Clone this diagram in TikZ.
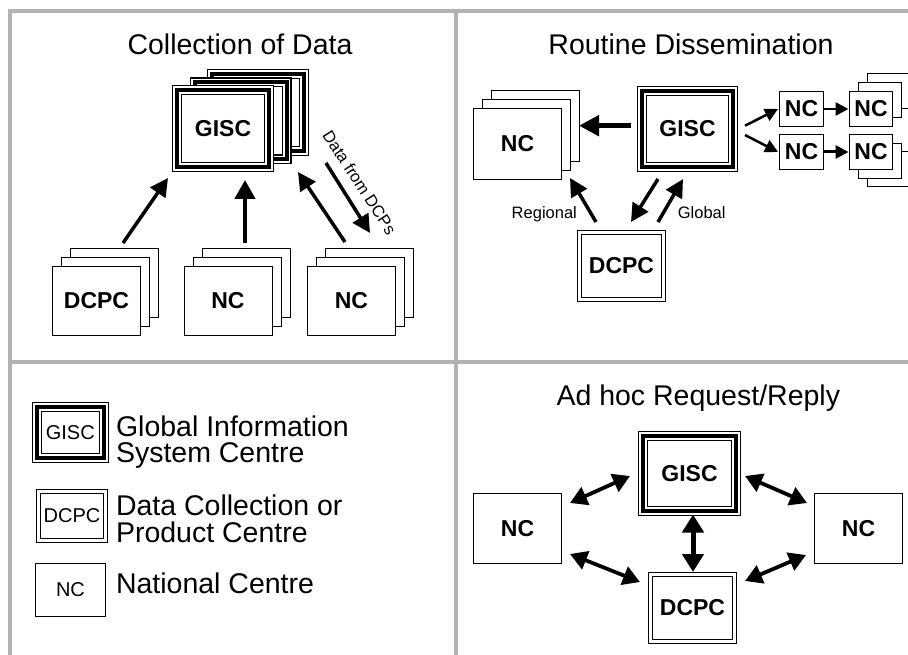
\documentclass[tikz,border=0pt]{standalone}
\usepackage{fontspec}
\setmainfont{Liberation Sans}
\usetikzlibrary{arrows.meta,calc}
\begin{document}
\begin{tikzpicture}[x=1pt,y=-1pt,
  every node/.style={inner sep=0pt, outer sep=0pt},
  sz/.style 2 args={minimum width=#1pt, minimum height=#2pt},
  ncbox/.style={draw=black, fill=white, line width=1pt},
  dcpcbox/.style={draw=black, fill=white, line width=1pt, double=white, double distance=3pt},
  giscbox/.style={draw=black, fill=white, line width=10pt,
     postaction={draw=white, line width=7.6pt},
     postaction={draw=black, line width=4pt}},
  lab/.style={font=\bfseries\fontsize{23}{23}\selectfont},
  legbox/.style={font=\fontsize{20}{20}\selectfont},
  ttl/.style={font=\fontsize{28.5}{28.5}\selectfont, anchor=base},
  legtxt/.style={font=\fontsize{28.5}{28.5}\selectfont, anchor=base west},
  smalltxt/.style={font=\fontsize{16.5}{16.5}\selectfont},
  arr/.style={line width=3.5pt, -{Triangle[length=18pt,width=18pt]}},
  arrthick/.style={line width=4.5pt, -{Triangle[length=19pt,width=20pt]}},
  arrsmall/.style={line width=2.5pt, -{Triangle[length=13pt,width=13pt]}},
  darr/.style={line width=3.8pt, {Triangle[length=17pt,width=19pt]}-{Triangle[length=17pt,width=19pt]}},
  darrthick/.style={line width=5pt, {Triangle[length=18pt,width=21pt]}-{Triangle[length=18pt,width=21pt]}},
  divider/.style={draw=black!30, line width=3.5pt}
]
\clip (0,0) rectangle (908,655);
\fill[white] (0,0) rectangle (908,655);

% panel dividers
\draw[divider] (8,11) -- (908,11);
\draw[divider] (10,9.5) -- (10,655);
\draw[divider] (456,11) -- (456,655);
\draw[divider] (10,362) -- (908,362);

% ---------------- Collection of Data ----------------
\node[ttl] (title1) at (240,55) {Collection of Data};

\node[giscbox, sz={92}{77}] (cg3) at (258,112.3) {};
\node[giscbox, sz={92}{77}] (cg2) at (240.5,120.9) {};
\node[giscbox, sz={92}{77}, lab] (cg) at (223,128.5) {GISC};

\node[ncbox, sz={88}{69}] (cd3) at (114.5,283) {};
\node[ncbox, sz={88}{69}] (cd2) at (105.5,292) {};
\node[ncbox, sz={88}{69}, lab] (cd) at (96.5,301) {DCPC};

\node[ncbox, sz={88}{69}] (cn3) at (246,283) {};
\node[ncbox, sz={88}{69}] (cn2) at (237,292) {};
\node[ncbox, sz={88}{69}, lab] (cn) at (228,301) {NC};

\node[ncbox, sz={88}{69}] (cm3) at (369.5,283) {};
\node[ncbox, sz={88}{69}] (cm2) at (360.5,292) {};
\node[ncbox, sz={88}{69}, lab] (cm) at (351.5,301) {NC};

\draw[arr] ($(cd)+(26.5,-58)$) -- ($(cg)+(-55,49.5)$);
\draw[arrthick] ($(cn)+(17,-58)$) -- ($(cg)+(22,51.5)$);
\draw[arr] ($(cm)+(-6.5,-59)$) -- ($(cg)+(75,43.5)$);
\draw[arr] ($(cg)+(103,34.5)$) -- ($(cm)+(18.5,-68)$);
\node[smalltxt, rotate=-57] (dcps) at (359.5,182.5) {Data from DCPs};

% ---------------- Routine Dissemination ----------------
\node[ttl] (title2) at (691,55) {Routine Dissemination};

\node[giscbox, sz={91}{76}, lab] (rg) at (687.5,129) {GISC};

\node[ncbox, sz={88}{71}] (rl3) at (535.5,126.5) {};
\node[ncbox, sz={88}{71}] (rl2) at (526.5,135) {};
\node[ncbox, sz={88}{71}, lab] (rl) at (517.5,144) {NC};

\node[dcpcbox, sz={84}{67}, lab] (rd) at (621.5,266) {DCPC};

\node[ncbox, sz={44}{35}, lab] (s1) at (801.5,109) {NC};
\node[ncbox, sz={44}{35}, lab] (s2) at (801.5,152) {NC};

\node[ncbox, sz={43}{35}] (t13) at (889,91.5) {};
\node[ncbox, sz={43}{35}] (t12) at (879.5,100) {};
\node[ncbox, sz={43}{35}, lab] (t1) at (871,109) {NC};

\node[ncbox, sz={43}{35}] (t23) at (889,169.5) {};
\node[ncbox, sz={43}{35}] (t22) at (879.5,161) {};
\node[ncbox, sz={43}{35}, lab] (t2) at (871,152) {NC};

\draw[line width=5pt, -{Triangle[length=20pt,width=20pt]}] ($(rg)+(-56.5,-3.3)$) -- ($(rl)+(61.5,-18.3)$);
\draw[arr] ($(rg)+(-29.5,50)$) -- ($(rd)+(9.5,-44)$);
\draw[arr] ($(rd)+(36.5,-44)$) -- ($(rg)+(-4.5,50)$);
\draw[arr] ($(rd)+(-25.5,-44)$) -- ($(rl)+(52.5,34)$);
\draw[arrsmall] ($(rg)+(57.5,-3.3)$) -- ($(s1)+(-23.5,0)$);
\draw[arrsmall] ($(rg)+(57.5,6)$) -- ($(s2)+(-23.5,0)$);
\draw[arrsmall] ($(s1)+(22.5,0)$) -- ($(t1)+(-22.5,0)$);
\draw[arrsmall, line width=3pt] ($(s2)+(22.5,0)$) -- ($(t2)+(-22.5,0)$);

\node[smalltxt, anchor=base] (regional) at (544.3,218.3) {Regional};
\node[smalltxt, anchor=base] (global) at (701.7,218.3) {Global};

% ---------------- Legend ----------------
\node[giscbox, sz={67}{51}, legbox] (lg) at (70.3,432.2) {GISC};
\node[dcpcbox, sz={67}{49}, legbox] (ld) at (72,516) {DCPC};
\node[ncbox, sz={70}{53}, legbox] (ln) at (70.5,590) {NC};

\node[legtxt] (lt1) at (116,436.7) {Global Information};
\node[legtxt] (lt2) at (116,462) {System Centre};
\node[legtxt] (lt3) at (116,515.7) {Data Collection or};
\node[legtxt] (lt4) at (116,542) {Product Centre};
\node[legtxt] (lt5) at (116,593) {National Centre};

% ---------------- Ad hoc Request/Reply ----------------
\node[ttl] (title3) at (698.3,405) {Ad hoc Request/Reply};

\node[giscbox, sz={93}{75}, lab] (ag) at (689.5,473.5) {GISC};
\node[dcpcbox, sz={84}{67}, lab] (ad) at (692.5,608) {DCPC};
\node[ncbox, sz={88}{70}, lab] (al) at (517.5,528.5) {NC};
\node[ncbox, sz={88}{70}, lab] (ar) at (858.5,528.5) {NC};

\draw[darrthick] ($(ag)+(3.5,41)$) -- ($(ad)+(0.5,-36)$);
\draw[darr] ($(al)+(52.5,-25.5)$) -- ($(ag)+(-59.5,2.5)$);
\draw[darr] ($(ag)+(55.5,2.5)$) -- ($(ar)+(-51.5,-25.5)$);
\draw[darr] ($(al)+(52.5,25.5)$) -- ($(ad)+(-52.5,-26)$);
\draw[darr] ($(ad)+(52.5,-27)$) -- ($(ar)+(-52.5,26.5)$);
\end{tikzpicture}
\end{document}
